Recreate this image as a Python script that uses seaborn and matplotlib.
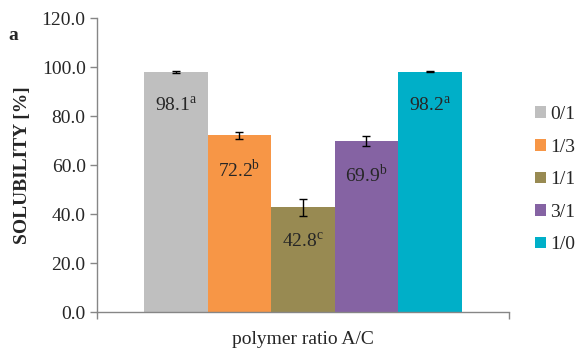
import pandas as pd
import matplotlib
matplotlib.use("Agg")
import matplotlib.pyplot as plt
import seaborn as sns

# data
ratios = ['0/1', '1/3', '1/1', '3/1', '1/0']
solubility = [98.1, 72.2, 42.8, 69.9, 98.2]
errors = [0.3, 1.5, 3.5, 2.0, 0.2]
letters = ['a', 'b', 'c', 'b', 'a']
colors = ['#BFBFBF', '#F79646', '#988A52', '#8563A3', '#00AFC8']

df = pd.DataFrame({'group': [''] * 5, 'ratio': ratios, 'solubility': solubility})

sns.set_style('white')
plt.rcParams['font.family'] = ['Liberation Serif', 'DejaVu Serif']
plt.rcParams['mathtext.fontset'] = 'custom'
plt.rcParams['mathtext.rm'] = 'Liberation Serif'
fs = 14

fig = plt.figure(figsize=(5.76, 3.49), dpi=100)
ax = fig.add_axes([0.168, 0.106, 0.716, 0.842])

sns.barplot(data=df, x='group', y='solubility', hue='ratio', hue_order=ratios,
            palette=colors, width=0.77, errorbar=None, saturation=1,
            linewidth=0, ax=ax, legend=True)

# error bars and labels on each bar
bars = [p for p in ax.patches if p.get_height() > 0]
bars = sorted(bars, key=lambda p: p.get_x())
for p, v, e, l in zip(bars, solubility, errors, letters):
    cx = p.get_x() + p.get_width() / 2
    ax.errorbar(cx, v, yerr=e, fmt='none', ecolor='black', elinewidth=1,
                capsize=3, capthick=1)
    ax.text(cx, v - 14, f'{v:.1f}' + r'$^\mathrm{' + l + '}$', ha='center',
            va='center', fontsize=fs)

ax.set_xlim(-0.5, 0.5)
ax.set_ylim(0, 120)
ax.set_yticks(range(0, 121, 20))
ax.set_yticklabels([f'{t:.1f}' for t in range(0, 121, 20)], fontsize=fs)
ax.set_xticks([-0.5, 0.5])
ax.set_xticklabels(['', ''])
ax.tick_params(axis='both', direction='out', length=5, color='#868686', width=1,
               left=True, bottom=True, pad=3)
for s in ['top', 'right']:
    ax.spines[s].set_visible(False)
for s in ['left', 'bottom']:
    ax.spines[s].set_color('#868686')
    ax.spines[s].set_linewidth(1)

ax.set_xlabel('polymer ratio A/C', fontsize=fs, labelpad=6)
ax.set_ylabel('SOLUBILITY [%]', fontsize=fs, fontweight='bold', labelpad=8)

leg = ax.legend(loc='center left', bbox_to_anchor=(1.02, 0.45), frameon=False,
                fontsize=fs, handlelength=0.55, handleheight=0.55,
                handletextpad=0.25, labelspacing=0.8)

fig.text(0.015, 0.885, 'a', fontsize=fs, fontweight='bold')

fig.savefig('out.png', dpi=100)
